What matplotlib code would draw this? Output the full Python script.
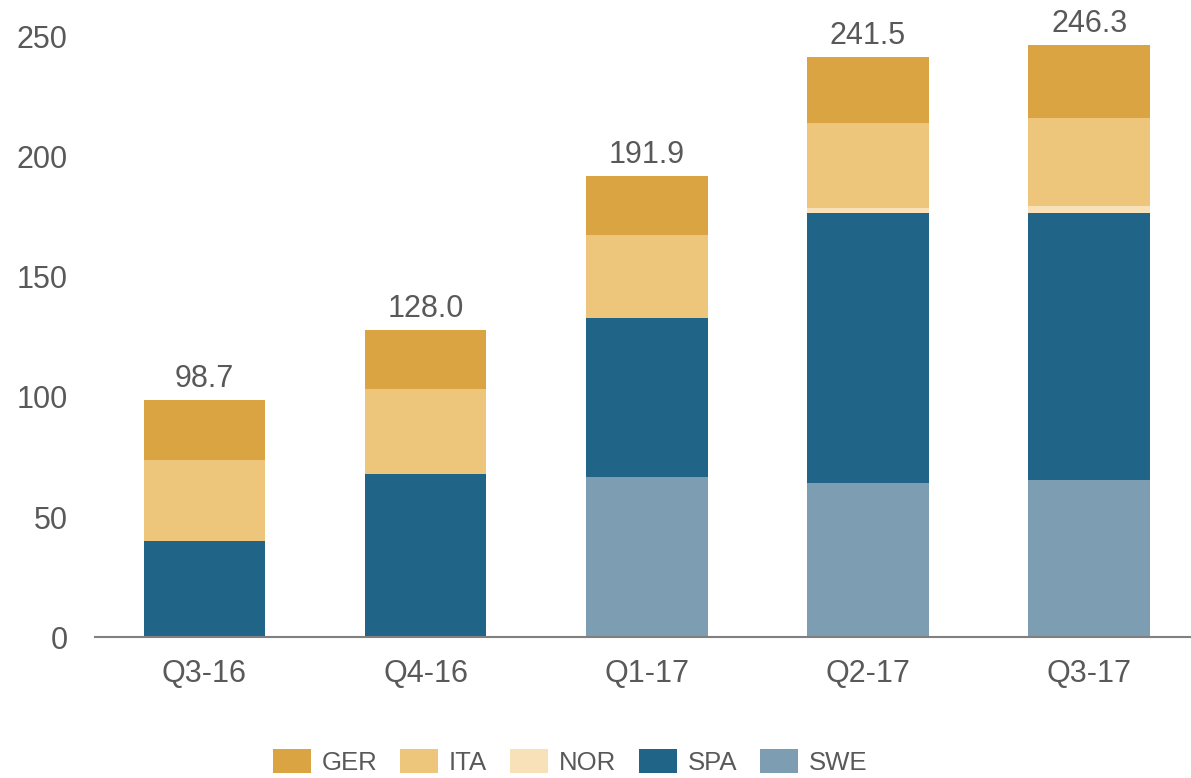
import numpy as np
import matplotlib.pyplot as plt

plt.rcParams['font.family'] = ['Liberation Sans', 'DejaVu Sans']

quarters = ['Q3-16', 'Q4-16', 'Q1-17', 'Q2-17', 'Q3-17']
swe = [0, 0, 66.5, 64.0, 65.5]
spa = [40.0, 68.0, 66.5, 112.5, 111.0]
nor = [0, 0, 0, 2.0, 3.0]
ita = [33.6, 35.4, 34.2, 35.5, 36.5]
ger = [25.1, 24.6, 24.7, 27.5, 30.3]
totals = [98.7, 128.0, 191.9, 241.5, 246.3]

colors = {'GER': '#dba443', 'ITA': '#edc67c', 'NOR': '#f8e0b8',
          'SPA': '#206587', 'SWE': '#7d9db2'}
text_col = '#595959'

fig = plt.figure(figsize=(11.91, 7.78), dpi=100)
ax = fig.add_axes([0.08, 0.181, 0.92, 0.772])

x = np.arange(len(quarters))
w = 0.55
bottom = np.zeros(len(quarters))
handles = {}
for name, vals in [('SWE', swe), ('SPA', spa), ('NOR', nor), ('ITA', ita), ('GER', ger)]:
    vals = np.array(vals)
    handles[name] = ax.bar(x, vals, w, bottom=bottom, color=colors[name], label=name)
    bottom += vals

for xi, top, tot in zip(x, bottom, totals):
    ax.text(xi, top + 2.5, f'{tot:.1f}', ha='center', va='bottom', fontsize=22, color=text_col)

ax.set_xlim(-0.493, 4.46)
ax.set_ylim(0, 250)
ax.set_yticks([0, 50, 100, 150, 200, 250])
ax.set_xticks(x)
ax.set_xticklabels(quarters)
ax.tick_params(axis='both', length=0, labelsize=22, colors=text_col)
ax.tick_params(axis='x', pad=16)
ax.tick_params(axis='y', pad=20)
for s in ['top', 'right', 'left']:
    ax.spines[s].set_visible(False)
ax.spines['bottom'].set_color('#808080')
ax.spines['bottom'].set_linewidth(1.5)

order = ['GER', 'ITA', 'NOR', 'SPA', 'SWE']
leg = fig.legend([handles[n] for n in order], order, loc='center', ncol=5,
                 bbox_to_anchor=(0.4786, 0.0206), frameon=False, fontsize=18.5,
                 handlelength=1.48, handleheight=1.09, columnspacing=0.88,
                 handletextpad=0.43, borderpad=0, borderaxespad=0)
for t in leg.get_texts():
    t.set_color(text_col)

fig.savefig('out.png', dpi=100)
